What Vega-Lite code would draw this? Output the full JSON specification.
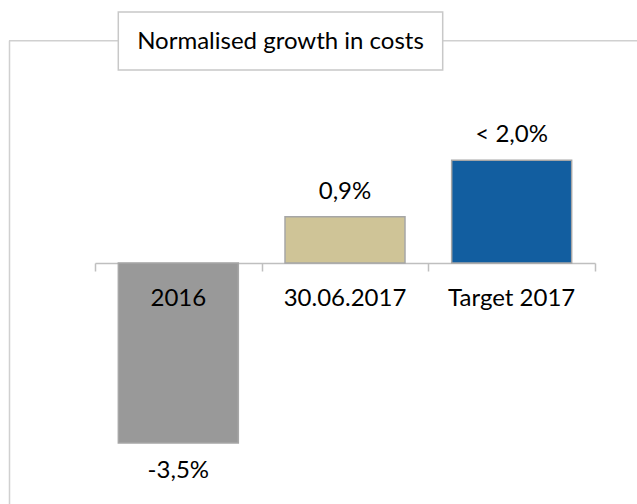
{
  "$schema": "https://vega.github.io/schema/vega-lite/v6.json",
  "width": 628,
  "height": 504,
  "autosize": {"type": "none"},
  "padding": {"left": 9, "top": 0, "right": 0, "bottom": 0},
  "background": "white",
  "config": {"view": {"stroke": null}, "font": "Lato", "text": {"font": "Lato"}},
  "datasets": {
    "costs": [
      {"period": "2016", "value": -3.5, "label": "-3,5%"},
      {"period": "30.06.2017", "value": 0.9, "label": "0,9%"},
      {"period": "Target 2017", "value": 2.0, "label": "< 2,0%"}
    ],
    "heading": [{"title": "Normalised growth in costs"}]
  },
  "layer": [
    {
      "data": {"name": "heading"},
      "mark": {"type": "rule", "stroke": "#d0d0d0", "strokeWidth": 1.5},
      "encoding": {
        "y": {"datum": 4.325, "type": "quantitative", "scale": {"domain": [-4.6887, 5.1167], "nice": false, "zero": false}, "axis": null}
      }
    },
    {
      "data": {"name": "heading"},
      "mark": {"type": "rule", "stroke": "#d0d0d0", "strokeWidth": 1.5},
      "encoding": {
        "x": {"datum": 0.5, "type": "quantitative", "scale": {"domain": [0, 628], "nice": false, "zero": false}, "axis": null},
        "y": {"datum": 4.325, "type": "quantitative", "scale": {"domain": [-4.6887, 5.1167], "nice": false, "zero": false}, "axis": null},
        "y2": {"datum": -4.6887}
      }
    },
    {
      "data": {"name": "heading"},
      "mark": {"type": "rect", "fill": "#ffffff", "stroke": "#c8c8c8", "strokeWidth": 1.5},
      "encoding": {
        "x": {"datum": 109.3, "type": "quantitative", "scale": {"domain": [0, 628], "nice": false, "zero": false}, "axis": null},
        "x2": {"datum": 433.7},
        "y": {"datum": 4.883, "type": "quantitative", "scale": {"domain": [-4.6887, 5.1167], "nice": false, "zero": false}, "axis": null},
        "y2": {"datum": 3.755}
      }
    },
    {
      "data": {"name": "heading"},
      "mark": {"type": "text", "align": "center", "baseline": "alphabetic", "fontSize": 24, "color": "#000000"},
      "encoding": {
        "x": {"datum": 271.5, "type": "quantitative", "scale": {"domain": [0, 628], "nice": false, "zero": false}, "axis": null},
        "y": {"datum": 4.163, "type": "quantitative", "scale": {"domain": [-4.6887, 5.1167], "nice": false, "zero": false}, "axis": null},
        "text": {"field": "title"}
      }
    },
    {
      "data": {"name": "costs"},
      "mark": {"type": "bar", "stroke": "#a6a6a6", "strokeWidth": 1.5, "width": {"band": 0.72}},
      "encoding": {
        "x": {"field": "period", "type": "nominal", "sort": null,
          "scale": {"domain": ["2016", "30.06.2017", "Target 2017"], "range": [86, 586], "paddingInner": 0, "paddingOuter": 0},
          "axis": {"orient": "bottom", "offset": -241, "tickBand": "extent", "labels": false, "ticks": true, "tickSize": 8, "tickColor": "#bfbfbf", "tickWidth": 1.5, "domain": true, "domainColor": "#bfbfbf", "domainWidth": 1.5, "title": null, "grid": false}},
        "y": {"field": "value", "type": "quantitative", "scale": {"domain": [-4.6887, 5.1167], "nice": false, "zero": false}, "axis": null},
        "color": {"field": "period", "type": "nominal", "sort": null, "scale": {"domain": ["2016", "30.06.2017", "Target 2017"], "range": ["#999999", "#cfc497", "#125ea0"]}, "legend": null}
      }
    },
    {
      "data": {"name": "costs"},
      "transform": [{"filter": "datum.value >= 0"}],
      "mark": {"type": "text", "dy": -18, "baseline": "alphabetic", "align": "center", "fontSize": 24, "color": "#000000"},
      "encoding": {
        "x": {"field": "period", "type": "nominal", "sort": null,
          "scale": {"domain": ["2016", "30.06.2017", "Target 2017"], "range": [86, 586], "paddingInner": 0, "paddingOuter": 0},
          "axis": null},
        "y": {"field": "value", "type": "quantitative", "scale": {"domain": [-4.6887, 5.1167], "nice": false, "zero": false}, "axis": null},
        "text": {"field": "label"}
      }
    },
    {
      "data": {"name": "costs"},
      "transform": [{"filter": "datum.value < 0"}],
      "mark": {"type": "text", "dy": 35, "baseline": "alphabetic", "align": "center", "fontSize": 24, "color": "#000000"},
      "encoding": {
        "x": {"field": "period", "type": "nominal", "sort": null,
          "scale": {"domain": ["2016", "30.06.2017", "Target 2017"], "range": [86, 586], "paddingInner": 0, "paddingOuter": 0},
          "axis": null},
        "y": {"field": "value", "type": "quantitative", "scale": {"domain": [-4.6887, 5.1167], "nice": false, "zero": false}, "axis": null},
        "text": {"field": "label"}
      }
    },
    {
      "data": {"name": "costs"},
      "mark": {"type": "text", "baseline": "alphabetic", "align": "center", "fontSize": 24, "color": "#000000"},
      "encoding": {
        "x": {"field": "period", "type": "nominal", "sort": null,
          "scale": {"domain": ["2016", "30.06.2017", "Target 2017"], "range": [86, 586], "paddingInner": 0, "paddingOuter": 0},
          "axis": null},
        "y": {"datum": -0.831, "type": "quantitative", "scale": {"domain": [-4.6887, 5.1167], "nice": false, "zero": false}, "axis": null},
        "text": {"field": "period"}
      }
    }
  ],
  "resolve": {"scale": {"x": "independent"}}
}
